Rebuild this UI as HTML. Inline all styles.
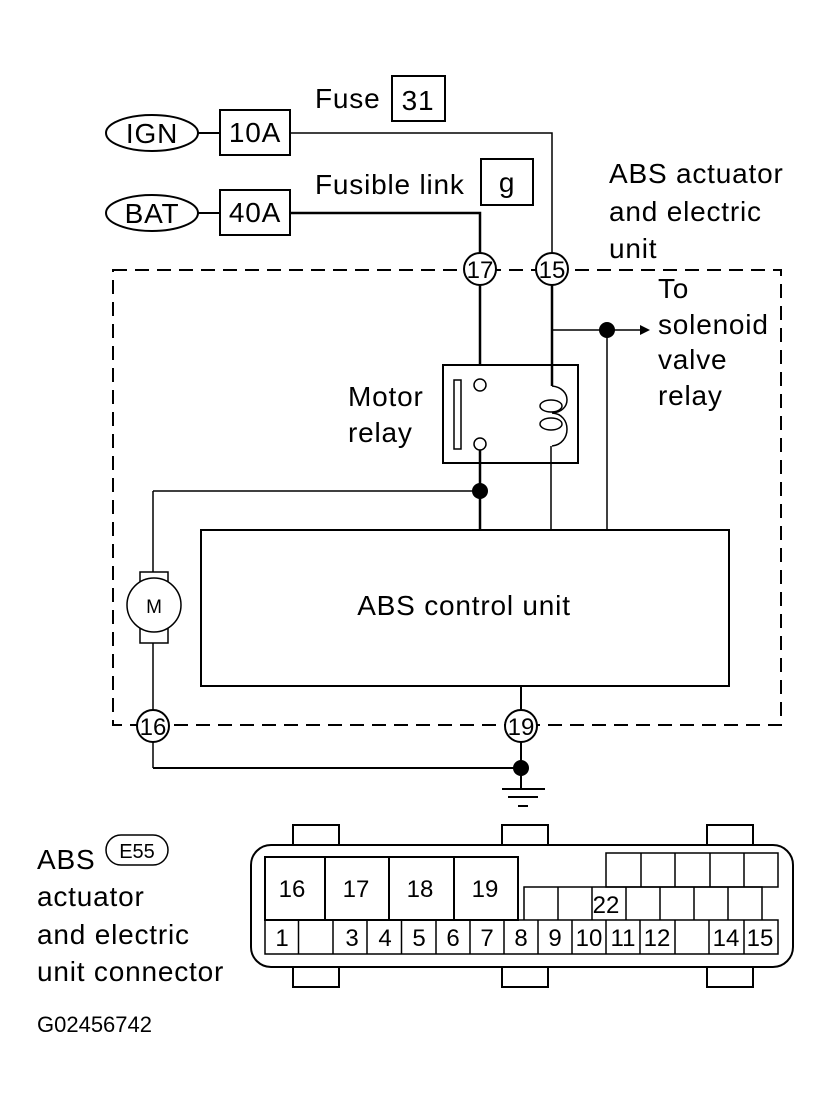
<!DOCTYPE html>
<html><head><meta charset="utf-8"><style>
html,body{margin:0;padding:0;background:#fff;}
svg{display:block;}
text{font-family:"Liberation Sans",Arial,sans-serif;fill:#000;}
</style></head><body>
<svg width="830" height="1107" viewBox="0 0 830 1107" xmlns="http://www.w3.org/2000/svg">
<g fill="none" stroke="#000" stroke-width="2">
<rect x="113" y="270" width="668" height="455" stroke-dasharray="14,8"/>
<ellipse cx="152" cy="133" rx="46" ry="18"/>
<ellipse cx="152" cy="213" rx="46" ry="18"/>
<line x1="198" y1="133" x2="220" y2="133"/>
<line x1="198" y1="213" x2="220" y2="213"/>
<rect x="220" y="110" width="70" height="45"/>
<rect x="220" y="190" width="70" height="45"/>
<rect x="392" y="76" width="53" height="45"/>
<rect x="481" y="159" width="52" height="46"/>
<polyline points="290,133 552,133 552,254" stroke-width="1.5"/>
<polyline points="290,213 480,213 480,254" stroke-width="2.5"/>
</g>
<g fill="#fff" stroke="#000" stroke-width="2">
<circle cx="480" cy="269" r="16"/>
<circle cx="552" cy="269" r="16"/>
<circle cx="153" cy="726" r="16"/>
<circle cx="521" cy="726" r="16"/>
</g>
<g fill="none" stroke="#000">
<line x1="480" y1="285" x2="480" y2="365" stroke-width="2.5"/>
<line x1="552" y1="285" x2="552" y2="386" stroke-width="2.5"/>
<line x1="552" y1="330" x2="640" y2="330" stroke-width="1.5"/>
<line x1="607" y1="330" x2="607" y2="530" stroke-width="1.5"/>
<rect x="443" y="365" width="135" height="98" stroke-width="2"/>
<rect x="454" y="380" width="7" height="69" stroke-width="1.5"/>
<circle cx="480" cy="385" r="6" stroke-width="1.5" fill="#fff"/>
<circle cx="480" cy="444" r="6" stroke-width="1.5" fill="#fff"/>
<path d="M552,386 C572,388 572,412 552,413 C572,414 572,444 552,446" stroke-width="1.5"/>
<ellipse cx="551" cy="406" rx="11" ry="6" stroke-width="1.5"/>
<ellipse cx="551" cy="424" rx="11" ry="6" stroke-width="1.5"/>
<line x1="551" y1="446" x2="551" y2="530" stroke-width="1.5"/>
<line x1="480" y1="450" x2="480" y2="530" stroke-width="2.5"/>
<line x1="480" y1="491" x2="153" y2="491" stroke-width="1.5"/>
<line x1="153" y1="491" x2="153" y2="572" stroke-width="1.5"/>
<rect x="201" y="530" width="528" height="156" stroke-width="2"/>
<rect x="140" y="572" width="28" height="71" stroke-width="1.5"/>
<circle cx="154" cy="605" r="27" stroke-width="1.5" fill="#fff"/>
<line x1="153" y1="643" x2="153" y2="710" stroke-width="1.5"/>
<line x1="153" y1="742" x2="153" y2="768" stroke-width="1.5"/>
<line x1="153" y1="768" x2="521" y2="768" stroke-width="2"/>
<line x1="521" y1="686" x2="521" y2="710" stroke-width="2"/>
<line x1="521" y1="742" x2="521" y2="789" stroke-width="2"/>
<line x1="502" y1="789" x2="545" y2="789" stroke-width="2"/>
<line x1="508" y1="797" x2="538" y2="797" stroke-width="2"/>
<line x1="518" y1="806" x2="528" y2="806" stroke-width="2"/>
</g>
<g fill="#000">
<circle cx="607" cy="330" r="8"/>
<circle cx="480" cy="491" r="8"/>
<circle cx="521" cy="768" r="8"/>
<polygon points="650,330 640,325 640,335"/>
</g>
<g font-size="28" letter-spacing="0.8">
<text x="152" y="143" text-anchor="middle">IGN</text>
<text x="152" y="223" text-anchor="middle">BAT</text>
<text x="255" y="142" text-anchor="middle">10A</text>
<text x="255" y="222" text-anchor="middle">40A</text>
<text x="315" y="108">Fuse</text>
<text x="418" y="110" text-anchor="middle">31</text>
<text x="315" y="194">Fusible link</text>
<text x="507" y="192" text-anchor="middle">g</text>
<text x="609" y="183">ABS actuator</text>
<text x="609" y="221">and electric</text>
<text x="609" y="258">unit</text>
<text x="658" y="298">To</text>
<text x="658" y="334">solenoid</text>
<text x="658" y="369">valve</text>
<text x="658" y="405">relay</text>
<text x="348" y="406">Motor</text>
<text x="348" y="442">relay</text>
<text x="464" y="615" text-anchor="middle">ABS control unit</text>
<text x="37" y="869">ABS</text>
<text x="37" y="906">actuator</text>
<text x="37" y="944">and electric</text>
<text x="37" y="981">unit connector</text>
</g>
<g font-size="24" text-anchor="middle">
<text x="480" y="278">17</text>
<text x="552" y="278">15</text>
<text x="153" y="735">16</text>
<text x="521" y="735">19</text>
</g>
<text x="154" y="613" font-size="19" text-anchor="middle">M</text>
<text x="37" y="1032" font-size="22">G02456742</text>
<rect x="106" y="835" width="62" height="30" rx="15" fill="none" stroke="#000" stroke-width="1.5"/>
<text x="137" y="858" font-size="20" text-anchor="middle">E55</text>
<g fill="none" stroke="#000" stroke-width="2">
<rect x="293" y="825" width="46" height="20"/>
<rect x="502" y="825" width="46" height="20"/>
<rect x="707" y="825" width="46" height="20"/>
<rect x="293" y="967" width="46" height="20"/>
<rect x="502" y="967" width="46" height="20"/>
<rect x="707" y="967" width="46" height="20"/>
<rect x="251" y="845" width="542" height="122" rx="20" fill="#fff"/>
<rect x="265" y="857" width="60" height="63"/>
<rect x="325" y="857" width="64" height="63"/>
<rect x="389" y="857" width="65" height="63"/>
<rect x="454" y="857" width="64" height="63"/>
</g>
<g fill="none" stroke="#000" stroke-width="1.5">
<rect x="265" y="920" width="513" height="34"/>
<path d="M298.5,920V954M333,920V954M367,920V954M401.5,920V954M436,920V954M470,920V954M504,920V954M538,920V954M572,920V954M606,920V954M640,920V954M675,920V954M709,920V954M744,920V954"/>
<path d="M524,920V887H762V920M558,887V920M592,887V920M626,887V920M660,887V920M694,887V920M728,887V920"/>
<rect x="606" y="853" width="172" height="34"/>
<path d="M641,853V887M675,853V887M710,853V887M744,853V887"/>
</g>
<g font-size="24" text-anchor="middle">
<text x="292" y="897">16</text>
<text x="356" y="897">17</text>
<text x="420" y="897">18</text>
<text x="485" y="897">19</text>
<text x="606" y="913">22</text>
<text x="282" y="946">1</text>
<text x="352" y="946">3</text>
<text x="385" y="946">4</text>
<text x="419" y="946">5</text>
<text x="453" y="946">6</text>
<text x="487" y="946">7</text>
<text x="521" y="946">8</text>
<text x="555" y="946">9</text>
<text x="589" y="946">10</text>
<text x="623" y="946">11</text>
<text x="657" y="946">12</text>
<text x="726" y="946">14</text>
<text x="760" y="946">15</text>
</g>
</svg>
</body></html>
